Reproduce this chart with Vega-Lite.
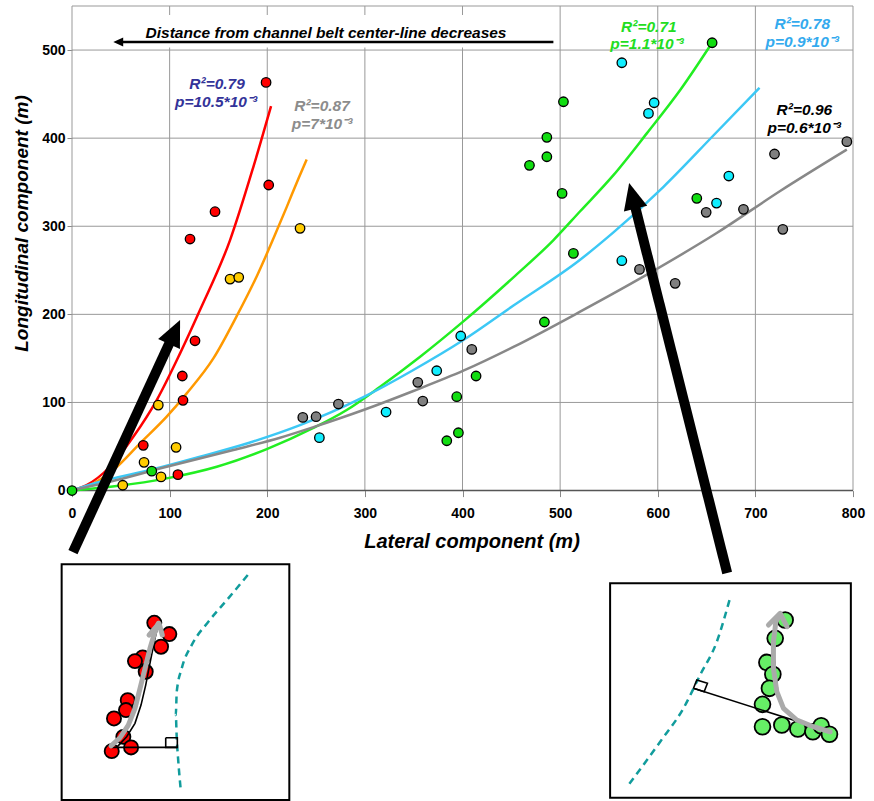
{
  "$schema": "https://vega.github.io/schema/vega-lite/v6.json",
  "width": 781,
  "height": 795,
  "autosize": {"type": "none"},
  "padding": {"left": 72, "top": 6, "right": 21, "bottom": 0},
  "background": "white",
  "config": {"view": {"stroke": null}, "font": "Liberation Sans"},
  "datasets": {
    "pts": [
      {"x": 0, "y": 0, "g": "green"}, {"x": 81.7, "y": 22, "g": "green"}, {"x": 655.7, "y": 508.3, "g": "green"},
      {"x": 640, "y": 331.7, "g": "green"}, {"x": 503.4, "y": 441.3, "g": "green"}, {"x": 486.4, "y": 400.9, "g": "green"},
      {"x": 486.4, "y": 378.9, "g": "green"}, {"x": 468.6, "y": 369.1, "g": "green"}, {"x": 502, "y": 337.3, "g": "green"},
      {"x": 513.6, "y": 269.2, "g": "green"}, {"x": 483.9, "y": 191.3, "g": "green"}, {"x": 413.9, "y": 130, "g": "green"},
      {"x": 394.1, "y": 106.5, "g": "green"}, {"x": 395.8, "y": 65.6, "g": "green"}, {"x": 383.9, "y": 56.5, "g": "green"},
      {"x": 236.4, "y": 83, "g": "gray"}, {"x": 250, "y": 83.8, "g": "gray"}, {"x": 272.9, "y": 98.2, "g": "gray"},
      {"x": 354.2, "y": 122.8, "g": "gray"}, {"x": 359.3, "y": 101.6, "g": "gray"}, {"x": 409.5, "y": 160.2, "g": "gray"},
      {"x": 581.3, "y": 251, "g": "gray"}, {"x": 617.8, "y": 235.2, "g": "gray"}, {"x": 649.6, "y": 315.8, "g": "gray"},
      {"x": 687.8, "y": 319.2, "g": "gray"}, {"x": 728.1, "y": 296.5, "g": "gray"}, {"x": 719.6, "y": 382, "g": "gray"},
      {"x": 793.7, "y": 396, "g": "gray"},
      {"x": 563.2, "y": 485.6, "g": "cyan"}, {"x": 596.3, "y": 440.2, "g": "cyan"}, {"x": 590.5, "y": 428.1, "g": "cyan"},
      {"x": 672.8, "y": 357, "g": "cyan"}, {"x": 660.2, "y": 326.3, "g": "cyan"}, {"x": 563.2, "y": 260.9, "g": "cyan"},
      {"x": 398.2, "y": 175.4, "g": "cyan"}, {"x": 373.6, "y": 136, "g": "cyan"}, {"x": 321.7, "y": 89.1, "g": "cyan"},
      {"x": 253.4, "y": 60, "g": "cyan"},
      {"x": 233.6, "y": 297.6, "g": "yellow"}, {"x": 161.9, "y": 240, "g": "yellow"}, {"x": 170.8, "y": 242, "g": "yellow"},
      {"x": 88.4, "y": 97, "g": "yellow"}, {"x": 106.6, "y": 49, "g": "yellow"}, {"x": 73.8, "y": 32, "g": "yellow"},
      {"x": 91.2, "y": 15.5, "g": "yellow"}, {"x": 52, "y": 6, "g": "yellow"},
      {"x": 198.8, "y": 463.3, "g": "red"}, {"x": 201.5, "y": 346.8, "g": "red"}, {"x": 146.5, "y": 316.5, "g": "red"},
      {"x": 120.9, "y": 285.5, "g": "red"}, {"x": 126, "y": 170, "g": "red"}, {"x": 113, "y": 130, "g": "red"},
      {"x": 113.7, "y": 102.4, "g": "red"}, {"x": 73, "y": 51.3, "g": "red"}, {"x": 108.5, "y": 18, "g": "red"}
    ],
    "curves": [
      {"x": 0, "y": 0, "g": "red"}, {"x": 15, "y": 6.2, "g": "red"}, {"x": 38.9, "y": 27, "g": "red"}, {"x": 62.8, "y": 61, "g": "red"},
      {"x": 86.8, "y": 102.7, "g": "red"}, {"x": 110.7, "y": 155.7, "g": "red"}, {"x": 131.1, "y": 204.9, "g": "red"},
      {"x": 161.9, "y": 284.3, "g": "red"}, {"x": 185.8, "y": 367.5, "g": "red"}, {"x": 203.9, "y": 436.4, "g": "red"},
      {"x": 0, "y": 0, "g": "orange"}, {"x": 18.4, "y": 6.2, "g": "orange"}, {"x": 42.3, "y": 23.3, "g": "orange"},
      {"x": 69.7, "y": 53.6, "g": "orange"}, {"x": 97, "y": 83.8, "g": "orange"}, {"x": 117.5, "y": 110.3, "g": "orange"},
      {"x": 144.8, "y": 150, "g": "orange"}, {"x": 168.7, "y": 198, "g": "orange"}, {"x": 190, "y": 245, "g": "orange"},
      {"x": 206.3, "y": 286, "g": "orange"}, {"x": 220, "y": 322, "g": "orange"}, {"x": 231.9, "y": 354, "g": "orange"},
      {"x": 240.4, "y": 375.9, "g": "orange"},
      {"x": 0, "y": 0, "g": "green"}, {"x": 45.8, "y": 5.1, "g": "green"}, {"x": 97, "y": 13.8, "g": "green"},
      {"x": 148.3, "y": 27, "g": "green"}, {"x": 199.5, "y": 47, "g": "green"}, {"x": 247.3, "y": 71, "g": "green"},
      {"x": 281.4, "y": 91.4, "g": "green"}, {"x": 315.6, "y": 117.8, "g": "green"}, {"x": 356.6, "y": 151.9, "g": "green"},
      {"x": 400.9, "y": 192, "g": "green"}, {"x": 452.2, "y": 242, "g": "green"}, {"x": 493.2, "y": 284.3, "g": "green"},
      {"x": 520.5, "y": 317, "g": "green"}, {"x": 554.6, "y": 358, "g": "green"}, {"x": 588.8, "y": 405.4, "g": "green"},
      {"x": 623, "y": 454.6, "g": "green"}, {"x": 655.7, "y": 508.3, "g": "green"},
      {"x": 0, "y": 0, "g": "blue"}, {"x": 28.7, "y": 10, "g": "blue"}, {"x": 79.9, "y": 23.3, "g": "blue"},
      {"x": 131.1, "y": 38.4, "g": "blue"}, {"x": 182.4, "y": 54.6, "g": "blue"}, {"x": 233.6, "y": 74.3, "g": "blue"},
      {"x": 298.5, "y": 106, "g": "blue"}, {"x": 349.7, "y": 136.8, "g": "blue"}, {"x": 400.9, "y": 170.8, "g": "blue"},
      {"x": 452.2, "y": 210, "g": "blue"}, {"x": 520.5, "y": 262, "g": "blue"}, {"x": 554.6, "y": 293, "g": "blue"},
      {"x": 605.9, "y": 344.8, "g": "blue"}, {"x": 657, "y": 403, "g": "blue"}, {"x": 704.2, "y": 457.2, "g": "blue"},
      {"x": 0, "y": 0, "g": "gray"}, {"x": 45.8, "y": 11.9, "g": "gray"}, {"x": 97, "y": 27, "g": "gray"},
      {"x": 165.3, "y": 46, "g": "gray"}, {"x": 213.1, "y": 60, "g": "gray"}, {"x": 247.3, "y": 72, "g": "gray"},
      {"x": 298.5, "y": 91.4, "g": "gray"}, {"x": 349.7, "y": 113, "g": "gray"}, {"x": 400.9, "y": 136, "g": "gray"},
      {"x": 452.2, "y": 163, "g": "gray"}, {"x": 520.5, "y": 203, "g": "gray"}, {"x": 588.8, "y": 245, "g": "gray"},
      {"x": 660, "y": 292, "g": "gray"}, {"x": 725.4, "y": 340, "g": "gray"}, {"x": 793.7, "y": 387, "g": "gray"}
    ],
    "labels": [
      {"x": 148.6, "y": 455.4, "t": "R²=0.79", "g": "red"},
      {"x": 147.5, "y": 435.5, "t": "p=10.5*10⁻³", "g": "red"},
      {"x": 256.1, "y": 430.8, "t": "R²=0.87", "g": "orange"},
      {"x": 256.1, "y": 410.9, "t": "p=7*10⁻³", "g": "orange"},
      {"x": 590.9, "y": 520.8, "t": "R²=0.71", "g": "green"},
      {"x": 589, "y": 500.9, "t": "p=1.1*10⁻³", "g": "green"},
      {"x": 748, "y": 523.5, "t": "R²=0.78", "g": "blue"},
      {"x": 748, "y": 503.6, "t": "p=0.9*10⁻³", "g": "blue"},
      {"x": 750.2, "y": 426.2, "t": "R²=0.96", "g": "gray"},
      {"x": 750, "y": 406.3, "t": "p=0.6*10⁻³", "g": "gray"}
    ],
    "insetCircles": [
      {"x": 84.3, "y": -150.1, "side": "L"}, {"x": 99.7, "y": -162.9, "side": "L"}, {"x": 91.2, "y": -177.3, "side": "L"},
      {"x": 72.4, "y": -189.4, "side": "L"}, {"x": 64.5, "y": -193.6, "side": "L"}, {"x": 75.5, "y": -205.7, "side": "L"},
      {"x": 57.1, "y": -237.9, "side": "L"}, {"x": 55.3, "y": -249.2, "side": "L"}, {"x": 43, "y": -258.7, "side": "L"},
      {"x": 52.6, "y": -279.6, "side": "L"}, {"x": 40.7, "y": -295.8, "side": "L"}, {"x": 60.5, "y": -291.6, "side": "L"},
      {"x": 730.5, "y": -147, "side": "R"}, {"x": 720.3, "y": -167.8, "side": "R"}, {"x": 711.8, "y": -195.1, "side": "R"},
      {"x": 717.9, "y": -208.6, "side": "R"}, {"x": 714.4, "y": -224.5, "side": "R"}, {"x": 707.3, "y": -242.7, "side": "R"},
      {"x": 707.3, "y": -268.1, "side": "R"}, {"x": 727.1, "y": -266.2, "side": "R"}, {"x": 743.5, "y": -270.7, "side": "R"},
      {"x": 758.9, "y": -273.8, "side": "R"}, {"x": 767.4, "y": -267, "side": "R"}, {"x": 775.9, "y": -276.7, "side": "R"}
    ],
    "teal": [
      {"x": 180, "y": -95.9, "id": "L"}, {"x": 160.1, "y": -122.4, "id": "L"}, {"x": 139.7, "y": -148.9, "id": "L"},
      {"x": 122.6, "y": -175.4, "id": "L"}, {"x": 112.4, "y": -201.8, "id": "L"}, {"x": 107.3, "y": -228.4, "id": "L"},
      {"x": 106.3, "y": -254.8, "id": "L"}, {"x": 107.3, "y": -281.3, "id": "L"}, {"x": 108.9, "y": -307.8, "id": "L"},
      {"x": 111.4, "y": -340, "id": "L"},
      {"x": 673.5, "y": -124.3, "id": "R"}, {"x": 660.5, "y": -171.6, "id": "R"}, {"x": 643.4, "y": -209.4, "id": "R"},
      {"x": 626.3, "y": -247.2, "id": "R"}, {"x": 602.5, "y": -285.1, "id": "R"}, {"x": 570, "y": -334.3, "id": "R"}
    ],
    "blackThin": [
      {"x": 40.7, "y": -291.5, "id": "Lline"}, {"x": 107.9, "y": -291.5, "id": "Lline"},
      {"x": 96, "y": -280.6, "id": "Lsq"}, {"x": 107.9, "y": -280.6, "id": "Lsq"}, {"x": 107.9, "y": -291.5, "id": "Lsq"},
      {"x": 96, "y": -291.5, "id": "Lsq"}, {"x": 96, "y": -280.6, "id": "Lsq"},
      {"x": 45.8, "y": -291.5, "id": "Lcurve"}, {"x": 56, "y": -279.5, "id": "Lcurve"}, {"x": 64.5, "y": -264.2, "id": "Lcurve"},
      {"x": 70.7, "y": -243.5, "id": "Lcurve"}, {"x": 75.5, "y": -220.8, "id": "Lcurve"}, {"x": 80.2, "y": -194.3, "id": "Lcurve"},
      {"x": 85, "y": -167.8, "id": "Lcurve"}, {"x": 87.8, "y": -154.6, "id": "Lcurve"},
      {"x": 636.6, "y": -224.5, "id": "Rline"}, {"x": 776.6, "y": -273.8, "id": "Rline"},
      {"x": 636.6, "y": -224.5, "id": "Rsq"}, {"x": 640, "y": -215.1, "id": "Rsq"}, {"x": 650.9, "y": -218.8, "id": "Rsq"},
      {"x": 647.5, "y": -228.4, "id": "Rsq"}, {"x": 636.6, "y": -224.5, "id": "Rsq"}
    ],
    "grayArrows": [
      {"x": 40, "y": -289.7, "id": "La"}, {"x": 49.2, "y": -280.6, "id": "La"}, {"x": 57.7, "y": -266.2, "id": "La"},
      {"x": 64.5, "y": -247.2, "id": "La"}, {"x": 69.7, "y": -224.5, "id": "La"}, {"x": 74.8, "y": -201.8, "id": "La"},
      {"x": 79.9, "y": -179.1, "id": "La"}, {"x": 85, "y": -160.3, "id": "La"}, {"x": 88.4, "y": -150.7, "id": "La"},
      {"x": 78.9, "y": -164, "id": "Lc"}, {"x": 89.1, "y": -150.7, "id": "Lc"}, {"x": 92.5, "y": -164, "id": "Lc"},
      {"x": 776.6, "y": -273.8, "id": "Ra"}, {"x": 759.5, "y": -268.1, "id": "Ra"}, {"x": 742.5, "y": -260.5, "id": "Ra"},
      {"x": 728.8, "y": -247.2, "id": "Ra"}, {"x": 722, "y": -228.4, "id": "Ra"}, {"x": 718.5, "y": -201.8, "id": "Ra"},
      {"x": 718.5, "y": -171.6, "id": "Ra"}, {"x": 721, "y": -148.9, "id": "Ra"}, {"x": 725.4, "y": -140.5, "id": "Ra"},
      {"x": 713.4, "y": -152.7, "id": "Rc"}, {"x": 725.4, "y": -139.4, "id": "Rc"}, {"x": 732.3, "y": -154.6, "id": "Rc"}
    ],
    "boxes": [
      {"x": -10.6, "x2": 222.6, "y": -351.3, "y2": -83.8},
      {"x": 551.2, "x2": 797.8, "y": -348.7, "y2": -105.3}
    ],
    "shafts": [
      {"x": 1, "y": -69.8, "id": "L"}, {"x": 101.2, "y": 170.8, "id": "L"},
      {"x": 671.1, "y": -93.6, "id": "R"}, {"x": 576.2, "y": 324.9, "id": "R"}
    ],
    "vgrid": [
      {"x": 100, "y": 0, "y2": 550}, {"x": 200, "y": 0, "y2": 550}, {"x": 300, "y": 0, "y2": 550},
      {"x": 400, "y": 0, "y2": 550}, {"x": 500, "y": 0, "y2": 550}, {"x": 600, "y": 0, "y2": 550},
      {"x": 700, "y": 0, "y2": 550}
    ],
    "hgrid": [
      {"x": 0, "x2": 800, "y": 100}, {"x": 0, "x2": 800, "y": 200}, {"x": 0, "x2": 800, "y": 300},
      {"x": 0, "x2": 800, "y": 400}, {"x": 0, "x2": 800, "y": 500}
    ],
    "frame": [{"x": 0, "x2": 800, "y": 0, "y2": 550}],
    "baseline": [{"x": 0, "x2": 800, "y": 0}],
    "whitebox": [{"x": 38.9, "x2": 498, "y": 503, "y2": 539.7}]
  },
  "encoding": {
    "x": {
      "field": "x", "type": "quantitative",
      "scale": {"domain": [0, 800], "nice": false, "zero": false},
      "axis": {
        "values": [0, 100, 200, 300, 400, 500, 600, 700, 800],
        "offset": -310.4, "domain": false, "grid": false,
        "tickSize": 6, "tickColor": "#888888",
        "labelFont": "Liberation Sans", "labelFontSize": 14, "labelFontWeight": "bold", "labelColor": "#000000",
        "labelPadding": 10, "labelFlush": false, "labelOverlap": false, "labelBound": false,
        "title": "Lateral component (m)", "titleFont": "Liberation Sans", "titleFontSize": 20,
        "titleFontWeight": "bold", "titleFontStyle": "italic", "titleColor": "#000000",
        "titleX": 399.5, "titleY": 56.5, "titleBaseline": "alphabetic", "titleAlign": "center"
      }
    },
    "y": {
      "field": "y", "type": "quantitative",
      "scale": {"domain": [-352.4, 550], "nice": false, "zero": false},
      "axis": {
        "values": [0, 100, 200, 300, 400, 500],
        "domain": false, "grid": false,
        "tickSize": 5, "tickColor": "#888888",
        "labelFont": "Liberation Sans", "labelFontSize": 14, "labelFontWeight": "bold", "labelColor": "#000000",
        "labelPadding": 2, "labelOverlap": false, "labelBound": false,
        "title": "Longitudinal component (m)", "titleFont": "Liberation Sans", "titleFontSize": 19,
        "titleFontWeight": "bold", "titleFontStyle": "italic", "titleColor": "#000000",
        "titleAngle": 270, "titleX": -45, "titleY": 217, "titleBaseline": "alphabetic", "titleAlign": "center"
      }
    }
  },
  "layer": [
    {
      "data": {"name": "vgrid"},
      "mark": {"type": "rule", "color": "#999999", "strokeWidth": 1},
      "encoding": {"y2": {"field": "y2"}}
    },
    {
      "data": {"name": "hgrid"},
      "mark": {"type": "rule", "color": "#999999", "strokeWidth": 1},
      "encoding": {"x2": {"field": "x2"}}
    },
    {
      "data": {"name": "whitebox"},
      "mark": {"type": "rect", "fill": "white"},
      "encoding": {"x2": {"field": "x2"}, "y2": {"field": "y2"}}
    },
    {
      "data": {"name": "frame"},
      "mark": {"type": "rect", "fillOpacity": 0, "fill": "white", "stroke": "#999999", "strokeWidth": 1},
      "encoding": {"x2": {"field": "x2"}, "y2": {"field": "y2"}}
    },
    {
      "data": {"name": "baseline"},
      "mark": {"type": "rule", "color": "#555555", "strokeWidth": 1.5},
      "encoding": {"x2": {"field": "x2"}}
    },
    {
      "data": {"name": "curves"},
      "mark": {"type": "line", "strokeWidth": 2.5, "interpolate": "monotone"},
      "encoding": {
        "stroke": {"field": "g", "type": "nominal", "legend": null,
          "scale": {"domain": ["red", "orange", "green", "blue", "gray"],
                    "range": ["#FF0000", "#FF9900", "#22EE22", "#3CC8F5", "#888888"]}}
      }
    },
    {
      "data": {"name": "pts"},
      "mark": {"type": "circle", "size": 90, "stroke": "#000000", "strokeWidth": 1.3, "opacity": 1, "fillOpacity": 1},
      "encoding": {
        "fill": {"field": "g", "type": "nominal", "legend": null,
          "scale": {"domain": ["red", "yellow", "green", "cyan", "gray"],
                    "range": ["#FF0000", "#FFCC00", "#11DD11", "#11EEFF", "#808080"]}}
      }
    },
    {
      "data": {"name": "labels"},
      "mark": {"type": "text", "font": "Liberation Sans", "fontSize": 15.5, "fontWeight": "bold", "fontStyle": "italic",
               "align": "center", "baseline": "alphabetic"},
      "encoding": {
        "text": {"field": "t"},
        "color": {"field": "g", "type": "nominal", "legend": null,
          "scale": {"domain": ["red", "orange", "green", "blue", "gray"],
                    "range": ["#333399", "#8C8C8C", "#22DD22", "#33AAEE", "#000000"]}}
      }
    },
    {
      "data": {"values": [{"x": 260.2, "y": 513.3, "t": "Distance from channel belt center-line decreases"}]},
      "mark": {"type": "text", "font": "Liberation Sans", "fontSize": 15.5, "fontWeight": "bold", "fontStyle": "italic",
               "align": "center", "baseline": "alphabetic", "color": "#000000"},
      "encoding": {"text": {"field": "t"}}
    },
    {
      "data": {"values": [{"x": 50, "y": 509.1}, {"x": 493.1, "y": 509.1}]},
      "mark": {"type": "line", "color": "#000000", "strokeWidth": 2.5},
      "encoding": {}
    },
    {
      "data": {"values": [{"x": 42.3, "y": 509.1}]},
      "mark": {"type": "point", "shape": "M0,0L-1,2.2L1,2.2Z", "size": 81, "angle": 270, "filled": true,
               "color": "#000000", "opacity": 1, "strokeWidth": 0},
      "encoding": {}
    },
    {
      "data": {"name": "shafts"},
      "mark": {"type": "line", "color": "#000000", "strokeWidth": 10, "strokeCap": "butt"},
      "encoding": {"detail": {"field": "id"}}
    },
    {
      "data": {"values": [{"x": 110.7, "y": 193.5}]},
      "mark": {"type": "point", "shape": "M0,0L-1,2.2L1,2.2Z", "size": 576, "angle": 24.7, "filled": true,
               "color": "#000000", "opacity": 1, "strokeWidth": 0},
      "encoding": {}
    },
    {
      "data": {"values": [{"x": 570.7, "y": 349.0}]},
      "mark": {"type": "point", "shape": "M0,0L-1,2.2L1,2.2Z", "size": 576, "angle": 345.9, "filled": true,
               "color": "#000000", "opacity": 1, "strokeWidth": 0},
      "encoding": {}
    },
    {
      "data": {"name": "boxes"},
      "mark": {"type": "rect", "fill": "white", "stroke": "#000000", "strokeWidth": 2},
      "encoding": {"x2": {"field": "x2"}, "y2": {"field": "y2"}}
    },
    {
      "data": {"name": "teal"},
      "mark": {"type": "line", "color": "#119C9C", "strokeWidth": 2.5, "strokeDash": [7, 5], "interpolate": "monotone"},
      "encoding": {"detail": {"field": "id"}, "order": {"value": null}}
    },
    {
      "data": {"name": "insetCircles"},
      "transform": [{"filter": "datum.side == 'L'"}],
      "mark": {"type": "circle", "size": 200, "fill": "#FF0000", "stroke": "#000000", "strokeWidth": 1.8, "opacity": 1},
      "encoding": {}
    },
    {
      "data": {"name": "insetCircles"},
      "transform": [{"filter": "datum.side == 'R'"}],
      "mark": {"type": "circle", "size": 250, "fill": "#66EE66", "stroke": "#000000", "strokeWidth": 1.8, "opacity": 1},
      "encoding": {}
    },
    {
      "data": {"name": "blackThin"},
      "mark": {"type": "line", "color": "#000000", "strokeWidth": 1.6},
      "encoding": {"detail": {"field": "id"}, "order": {"value": null}}
    },
    {
      "data": {"name": "grayArrows"},
      "mark": {"type": "line", "color": "#AAAAAA", "strokeWidth": 5, "strokeCap": "round", "strokeJoin": "round"},
      "encoding": {"detail": {"field": "id"}, "order": {"value": null}}
    }
  ]
}
